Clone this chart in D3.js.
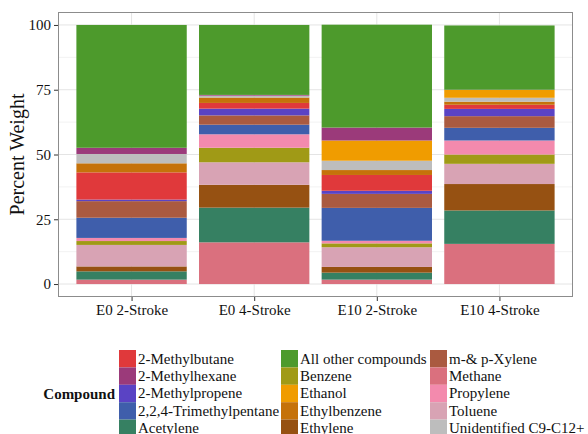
<!DOCTYPE html>
<html lang="en">
<head>
    <meta charset="UTF-8">
    <title>Percent Weight by Compound</title>
    <style>
        body{
            margin:0;
            background:#fff;
        }
        svg text{
            font-family:"Times New Roman","Liberation Serif",Times,serif;
            fill:#111;
        }
        .grid-major line{
            stroke:#e4e4e4;
            stroke-width:1;
        }
        .grid-minor line{
            stroke:#f2f2f2;
            stroke-width:1;
        }
        .axis path{
            display:none;
        }
        .axis line{
            stroke:#333;
        }
        .axis text{
            font-family:"Times New Roman","Liberation Serif",Times,serif;
            font-size:15px;
        }
    </style>
    <script src="https://cdn.jsdelivr.net/npm/d3@7"></script>
</head>
<body>
<div id="chart"></div>
<script>
    // categories (x axis)
    var groups = ["E0 2-Stroke","E0 4-Stroke","E10 2-Stroke","E10 4-Stroke"];

    // legend order (alphabetical as in the source)
    var compounds = ["2-Methylbutane","2-Methylhexane","2-Methylpropene","2,2,4-Trimethylpentane",
        "Acetylene","All other compounds","Benzene","Ethanol","Ethylbenzene","Ethylene",
        "m-& p-Xylene","Methane","Propylene","Toluene","Unidentified C9-C12+"];

    var colors = ["#e0393b","#9b3a7a","#5a43c4","#3f5eab",
        "#368062","#4d9a2c","#a09a16","#f09c00","#c5720a","#965112",
        "#aa5a40","#da707e","#f38aad","#d8a3b4","#bdbdbd"];

    // stacking order, bottom to top
    var stackOrder = ["Methane","Acetylene","Ethylene","Toluene","Benzene","Propylene",
        "2,2,4-Trimethylpentane","m-& p-Xylene","2-Methylpropene","2-Methylbutane",
        "Ethylbenzene","Unidentified C9-C12+","Ethanol","2-Methylhexane","All other compounds"];

    // percent weight per compound, one value per group (same order as groups)
    var methylbutane   = [10.5, 2.2, 6.1, 1.6];
    var methylhexane   = [2.4, 0.3, 5.0, 0.1];
    var methylpropene  = [0.6, 2.6, 1.2, 2.8];
    var trimethylpent  = [7.8, 3.7, 12.7, 4.9];
    var acetylene      = [3.2, 13.4, 2.7, 12.9];
    var allOther       = [47.4, 27.0, 39.7, 24.8];
    var benzene        = [1.5, 5.6, 1.5, 3.6];
    var ethanol        = [0, 0, 7.8, 3.0];
    var ethylbenzene   = [3.5, 2.1, 1.9, 1.2];
    var ethylene       = [1.9, 8.8, 2.2, 10.2];
    var xylene         = [6.4, 3.6, 5.4, 4.5];
    var methane        = [1.7, 16.1, 1.7, 15.5];
    var propylene      = [1.2, 5.2, 1.0, 5.4];
    var toluene        = [8.3, 8.7, 7.6, 7.8];
    var unidentified   = [3.6, 0.7, 3.6, 1.5];

    var yTicks = [0,25,50,75,100];
    var yMinor = [12.5,37.5,62.5,87.5];

    var valueOf = {
        "2-Methylbutane":methylbutane,
        "2-Methylhexane":methylhexane,
        "2-Methylpropene":methylpropene,
        "2,2,4-Trimethylpentane":trimethylpent,
        "Acetylene":acetylene,
        "All other compounds":allOther,
        "Benzene":benzene,
        "Ethanol":ethanol,
        "Ethylbenzene":ethylbenzene,
        "Ethylene":ethylene,
        "m-& p-Xylene":xylene,
        "Methane":methane,
        "Propylene":propylene,
        "Toluene":toluene,
        "Unidentified C9-C12+":unidentified
    };

    // table rows for d3.stack
    var table = groups.map(function(g,i){
        var row = {group:g};
        compounds.forEach(function(c){ row[c] = valueOf[c][i]; });
        return row;
    });

    var width = 588, height = 434;
    var panel = {left:58, top:12, right:573, bottom:297};

    var svg = d3.select("#chart").append("svg")
        .attr("width",width)
        .attr("height",height);

    var color = d3.scaleOrdinal().domain(compounds).range(colors);

    // ggplot-like expansion: 0.6 band on each side of discrete axis
    var step = (panel.right-panel.left)/(groups.length-1+1.2);
    var xScale = d3.scalePoint()
        .domain(groups)
        .range([panel.left+0.6*step, panel.right-0.6*step]);
    var barW = step*0.9;

    var yScale = d3.scaleLinear()
        .domain([-5,105])
        .range([panel.bottom,panel.top]);

    // grid
    svg.append("g").attr("class","grid-minor")
        .selectAll("line").data(yMinor).enter().append("line")
        .attr("x1",panel.left).attr("x2",panel.right)
        .attr("y1",function(d){return yScale(d);})
        .attr("y2",function(d){return yScale(d);});
    svg.append("g").attr("class","grid-major")
        .selectAll("line").data(yTicks).enter().append("line")
        .attr("x1",panel.left).attr("x2",panel.right)
        .attr("y1",function(d){return yScale(d);})
        .attr("y2",function(d){return yScale(d);});
    svg.append("g").attr("class","grid-major")
        .selectAll("line").data(groups).enter().append("line")
        .attr("x1",function(d){return xScale(d);})
        .attr("x2",function(d){return xScale(d);})
        .attr("y1",panel.top).attr("y2",panel.bottom);

    // stacked bars
    var series = d3.stack().keys(stackOrder)(table);
    svg.append("g").selectAll("g")
        .data(series).enter().append("g")
        .attr("fill",function(d){return color(d.key);})
        .selectAll("rect")
        .data(function(d){return d;})
        .enter().append("rect")
        .attr("x",function(d){return xScale(d.data.group)-barW/2;})
        .attr("width",barW)
        .attr("y",function(d){return yScale(d[1]);})
        .attr("height",function(d){return yScale(d[0])-yScale(d[1]);});

    // panel border
    svg.append("rect")
        .attr("x",panel.left+0.5).attr("y",panel.top+0.5)
        .attr("width",panel.right-panel.left-1)
        .attr("height",panel.bottom-panel.top-1)
        .attr("fill","none")
        .attr("stroke","#8c8c8c");

    // axes
    svg.append("g")
        .attr("class","axis")
        .attr("transform","translate("+panel.left+",0)")
        .call(d3.axisLeft(yScale).tickValues(yTicks).tickSize(4).tickPadding(3));
    svg.append("g")
        .attr("class","axis")
        .attr("transform","translate(0,"+panel.bottom+")")
        .call(d3.axisBottom(xScale).tickSize(4).tickPadding(3));

    // y title
    svg.append("text")
        .attr("transform","translate(24,"+((panel.top+panel.bottom)/2)+") rotate(-90)")
        .attr("text-anchor","middle")
        .style("font-size","20px")
        .text("Percent Weight");

    // legend
    var legCols = [119, 281, 430];
    var keyW = 17, rowH = 17.4, legTop = 350;
    svg.append("text")
        .attr("x",115).attr("y",legTop+2*rowH+rowH/2+5)
        .attr("text-anchor","end")
        .style("font-size","15px")
        .style("font-weight","bold")
        .text("Compound");
    var items = svg.append("g").selectAll("g")
        .data(compounds).enter().append("g")
        .attr("transform",function(d,i){
            return "translate("+legCols[Math.floor(i/5)]+","+(legTop+(i%5)*rowH)+")";
        });
    items.append("rect")
        .attr("width",keyW).attr("height",rowH)
        .attr("fill",function(d){return color(d);});
    items.append("text")
        .attr("x",keyW+2).attr("y",rowH/2+5)
        .style("font-size","15px")
        .text(function(d){return d;});
</script>
</body>
</html>
